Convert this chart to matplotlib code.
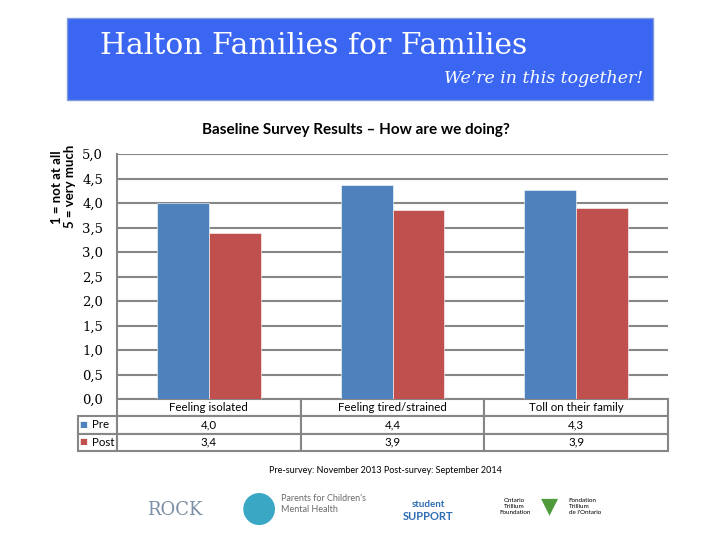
import matplotlib.pyplot as plt
from matplotlib.patches import Rectangle

# Survey data
categories = ['Feeling isolated', 'Feeling tired/strained', 'Toll on their family']
pre_scores = [4.0, 4.37, 4.26]
post_scores = [3.39, 3.86, 3.90]
series_names = ['Pre', 'Post']
y_ticks = [0.0, 0.5, 1.0, 1.5, 2.0, 2.5, 3.0, 3.5, 4.0, 4.5, 5.0]

pre_color = '#4F81BD'
post_color = '#C0504D'
grid_color = '#868686'


def comma(v):
    return f'{v:.1f}'.replace('.', ',')


fig = plt.figure(figsize=(7.2, 5.4), dpi=100)

# Blue banner at the top
fig.patches.append(Rectangle((0.093, 0.815), 0.814, 0.152, transform=fig.transFigure,
                             facecolor='#3A66F2', edgecolor='#7F9BD8', linewidth=1))
fig.text(0.436, 0.915, 'Halton Families for Families', family='DejaVu Serif',
         fontsize=21.5, color='white', ha='center', va='center')
fig.text(0.894, 0.854, 'We\u2019re in this together!', family='DejaVu Serif', style='italic',
         fontsize=12.5, color='white', ha='right', va='center')

# Chart area
ax = fig.add_axes([0.1625, 0.2611, 0.7653, 0.4537])
x = range(len(categories))
w = 0.283
ax.bar([i - w / 2 for i in x], pre_scores, width=w, color=pre_color,
       edgecolor='white', linewidth=0.4, zorder=3)
ax.bar([i + w / 2 for i in x], post_scores, width=w, color=post_color,
       edgecolor='white', linewidth=0.4, zorder=3)

ax.set_xlim(-0.5, len(categories) - 0.5)
ax.set_ylim(0, 5)
ax.set_yticks(y_ticks)
ax.set_yticklabels([comma(t) for t in y_ticks], family='DejaVu Serif', fontsize=9.5)
ax.set_xticks([])
ax.tick_params(axis='y', length=0, pad=10)
ax.yaxis.grid(True, color=grid_color, linewidth=1.5, zorder=0)
for s in ['top', 'right', 'bottom']:
    ax.spines[s].set_visible(False)
ax.spines['left'].set_color(grid_color)
ax.spines['left'].set_linewidth(1.5)

fig.text(0.494, 0.759, 'Baseline Survey Results \u2013 How are we doing?', family='Lato',
         fontweight='bold', fontsize=11, ha='center', va='center')
fig.text(0.088, 0.654, '1 = not at all\n5 = very much', family='Lato', fontweight='bold',
         fontsize=9.5, rotation=90, ha='center', va='center', linespacing=1.1)

# Data table under the chart
label_w = 39 / 551
cell_text = [[comma(v) for v in pre_scores], [comma(v) for v in post_scores]]
tbl = ax.table(cellText=cell_text, rowLabels=series_names,
               colLabels=categories, colWidths=[1 / 3] * 3,
               cellLoc='center', rowLoc='left',
               bbox=[0, -0.212, 1, 0.212])
tbl.auto_set_font_size(False)
tbl._autoColumns = []
for (r, c), cell in tbl.get_celld().items():
    cell.set_edgecolor(grid_color)
    cell.set_linewidth(1.5)
    cell.get_text().set_fontsize(8.3)
    cell.get_text().set_family('Lato')
    if c == -1:
        cell.set_width(label_w)
        cell.PAD = 0.36

# Coloured squares in front of the row labels
for k, col in enumerate([pre_color, post_color]):
    fig.text(0.1155, 0.214 - k * 0.0315, '\u25A0', color=col, fontsize=6,
             ha='center', va='center', family='DejaVu Sans')

fig.text(0.535, 0.128, 'Pre-survey: November 2013 Post-survey: September 2014',
         family='Lato', fontsize=6.5, ha='center', va='center')

# Sponsor logos (text stand-ins)
fig.text(0.243, 0.055, 'ROCK', family='DejaVu Serif', fontsize=13, color='#7A8FA6',
         ha='center', va='center')
fig.text(0.36, 0.06, '\u25CF', fontsize=30, color='#3AA7C5', ha='center', va='center')
fig.text(0.39, 0.076, "Parents for Children's", family='Lato', fontsize=6.5,
         color='#6A6A6A', ha='left', va='center')
fig.text(0.39, 0.056, 'Mental Health', family='Lato', fontsize=6.5,
         color='#6A6A6A', ha='left', va='center')
fig.text(0.595, 0.065, 'student', family='Lato', fontsize=7, fontweight='bold',
         color='#2E6DB4', ha='center', va='center')
fig.text(0.595, 0.044, 'SUPPORT', family='Lato', fontsize=8, fontweight='bold',
         color='#2E6DB4', ha='center', va='center')
fig.text(0.715, 0.062, 'Ontario\nTrillium\nFoundation', family='Lato', fontsize=4.5,
         ha='center', va='center', linespacing=1.3)
fig.text(0.763, 0.062, '\u25BC', fontsize=16, color='#4F9A3A', ha='center', va='center')
fig.text(0.79, 0.062, 'Fondation\nTrillium\nde l\'Ontario', family='Lato', fontsize=4.5,
         ha='left', va='center', linespacing=1.3)

fig.savefig('out.png', dpi=100)
